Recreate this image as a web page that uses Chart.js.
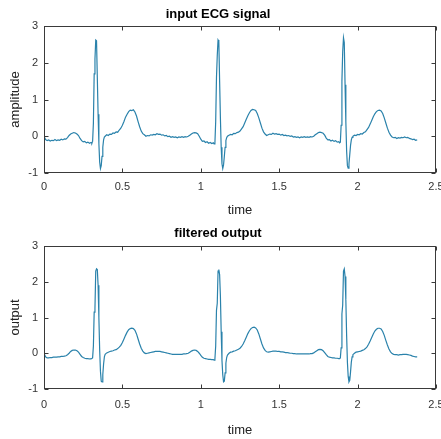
<!DOCTYPE html>
<html lang="en">
<head>
  <meta charset="UTF-8">
  <title>ECG input and filtered output</title>
  <script src="https://cdn.jsdelivr.net/npm/chart.js"></script>
  <style>
    body {
      margin: 0;
      background: #fff;
      width: 441px;
      height: 439px;
      overflow: hidden;
    }
    canvas {
      display: block;
    }
  </style>
</head>
<body>
  <canvas id="inputChart" width="441" height="220"></canvas>
  <canvas id="filteredChart" width="441" height="219"></canvas>

  <script>
    // sample times (s), denser around each QRS complex
    const timeSec = [
      0.00, 0.01, 0.02, 0.03, 0.04, 0.05, 0.06, 0.07, 0.08, 0.09,
      0.10, 0.11, 0.12, 0.13, 0.14, 0.15, 0.16, 0.17, 0.18, 0.19,
      0.20, 0.21, 0.22, 0.23, 0.24, 0.25, 0.26, 0.27, 0.28, 0.29,
      0.30, 0.305, 0.31, 0.315, 0.32, 0.325, 0.33, 0.335, 0.34, 0.345,
      0.35, 0.355, 0.36, 0.365, 0.37, 0.375, 0.38, 0.385,
      0.39, 0.40, 0.41, 0.42, 0.43, 0.44, 0.45, 0.46, 0.47, 0.48,
      0.49, 0.50, 0.51, 0.52, 0.53, 0.54, 0.55, 0.56, 0.57, 0.58,
      0.59, 0.60, 0.61, 0.62, 0.63, 0.64, 0.65, 0.66, 0.67, 0.68,
      0.69, 0.70, 0.71, 0.72, 0.73, 0.74, 0.75, 0.76, 0.77, 0.78,
      0.79, 0.80, 0.81, 0.82, 0.83, 0.84, 0.85, 0.86, 0.87, 0.88,
      0.89, 0.90, 0.91, 0.92, 0.93, 0.94, 0.95, 0.96, 0.97, 0.98,
      0.99, 1.00, 1.01, 1.02, 1.03, 1.04, 1.05, 1.06, 1.07, 1.08,
      1.085, 1.09, 1.095, 1.10, 1.105, 1.11, 1.115, 1.12, 1.125, 1.13,
      1.135, 1.14, 1.145, 1.15, 1.155, 1.16, 1.165,
      1.17, 1.18, 1.19, 1.20, 1.21, 1.22, 1.23, 1.24, 1.25, 1.26,
      1.27, 1.28, 1.29, 1.30, 1.31, 1.32, 1.33, 1.34, 1.35, 1.36,
      1.37, 1.38, 1.39, 1.40, 1.41, 1.42, 1.43, 1.44, 1.45, 1.46,
      1.47, 1.48, 1.49, 1.50, 1.51, 1.52, 1.53, 1.54, 1.55, 1.56,
      1.57, 1.58, 1.59, 1.60, 1.61, 1.62, 1.63, 1.64, 1.65, 1.66,
      1.67, 1.68, 1.69, 1.70, 1.71, 1.72, 1.73, 1.74, 1.75, 1.76,
      1.77, 1.78, 1.79, 1.80, 1.81, 1.82, 1.83, 1.84, 1.85, 1.86,
      1.87, 1.88,
      1.885, 1.89, 1.895, 1.90, 1.905, 1.91, 1.915, 1.92, 1.925, 1.93,
      1.935, 1.94, 1.945, 1.95, 1.955, 1.96, 1.965,
      1.97, 1.98, 1.99, 2.00, 2.01, 2.02, 2.03, 2.04, 2.05, 2.06,
      2.07, 2.08, 2.09, 2.10, 2.11, 2.12, 2.13, 2.14, 2.15, 2.16,
      2.17, 2.18, 2.19, 2.20, 2.21, 2.22, 2.23, 2.24, 2.25, 2.26,
      2.27, 2.28, 2.29, 2.30, 2.31, 2.32, 2.33, 2.34, 2.35, 2.36,
      2.37, 2.38
    ];

    // raw ECG amplitude, same rows as timeSec
    const inputAmp = [
      0.00, -0.09, -0.12, -0.10, -0.13, -0.11, -0.12, -0.09, -0.12, -0.10,
      -0.11, -0.08, -0.10, -0.07, -0.08, -0.04, 0.02, 0.06, 0.08, 0.10,
      0.09, 0.06, 0.02, -0.06, -0.12, -0.15, -0.14, -0.18, -0.16, -0.19,
      -0.17, -0.19, -0.14, 0.35, 1.70, 2.10, 2.62, 2.60, 1.60, 0.60,
      -0.20, -0.70, -0.88, -0.80, -0.55, -0.30, -0.10, -0.02,
      0.00, 0.04, 0.02, 0.06, 0.05, 0.09, 0.08, 0.12, 0.11, 0.17,
      0.22, 0.30, 0.40, 0.52, 0.60, 0.67, 0.71, 0.70, 0.72, 0.66,
      0.55, 0.40, 0.26, 0.14, 0.07, 0.04, 0.00, 0.02, 0.01, 0.04,
      0.03, 0.05, 0.04, 0.07, 0.05, 0.06, 0.03, 0.04, 0.01, 0.02,
      -0.01, 0.00, -0.03, -0.01, -0.03, -0.02, -0.04, -0.02, -0.03, -0.01,
      -0.03, -0.01, -0.02, 0.00, 0.03, 0.06, 0.09, 0.10, 0.09, 0.07,
      0.00, -0.08, -0.14, -0.13, -0.17, -0.15, -0.19, -0.17, -0.20, -0.18,
      -0.21, -0.19, 0.40, 1.60, 2.20, 2.62, 2.58, 1.50, 0.50, -0.30,
      -0.75, -0.88, -0.78, -0.55, -0.30, -0.12, -0.04,
      0.00, 0.03, 0.05, 0.04, 0.08, 0.07, 0.10, 0.11, 0.14, 0.20,
      0.26, 0.36, 0.46, 0.56, 0.64, 0.70, 0.73, 0.72, 0.70, 0.62,
      0.50, 0.36, 0.22, 0.12, 0.06, 0.02, 0.04, 0.06, 0.05, 0.08,
      0.06, 0.07, 0.05, 0.06, 0.03, 0.05, 0.02, 0.03, 0.01, 0.02,
      0.00, 0.01, -0.02, -0.01, -0.03, -0.02, -0.04, -0.02, -0.03, -0.01,
      -0.03, -0.02, -0.03, -0.01, -0.02, 0.00, 0.04, 0.07, 0.10, 0.11,
      0.10, 0.08, 0.03, -0.05, -0.10, -0.09, -0.13, -0.11, -0.14, -0.12,
      -0.16, -0.15,
      -0.18, -0.16, 0.30, 1.50, 2.30, 2.68, 2.55, 1.40, 0.40, -0.40,
      -0.80, -0.87, -0.75, -0.50, -0.25, -0.10, -0.03,
      0.00, 0.03, 0.02, 0.05, 0.04, 0.07, 0.06, 0.10, 0.12, 0.18,
      0.24, 0.33, 0.43, 0.53, 0.61, 0.67, 0.70, 0.71, 0.69, 0.62,
      0.50, 0.36, 0.22, 0.11, 0.03, -0.02, -0.04, -0.03, -0.06, -0.04,
      -0.05, -0.03, -0.04, -0.02, -0.04, -0.03, -0.06, -0.07, -0.09, -0.08,
      -0.11, -0.10
    ];

    // filter output, same rows as timeSec
    const filteredOut = [
      0.00, -0.10, -0.13, -0.13, -0.12, -0.12, -0.11, -0.11, -0.11, -0.10,
      -0.10, -0.09, -0.09, -0.08, -0.07, -0.04, 0.00, 0.05, 0.08, 0.09,
      0.09, 0.07, 0.03, -0.03, -0.09, -0.12, -0.14, -0.15, -0.15, -0.16,
      -0.16, -0.16, -0.13, 0.20, 1.15, 1.25, 2.30, 2.36, 2.34, 1.90,
      1.00, 0.10, -0.50, -0.78, -0.80, -0.60, -0.30, -0.10,
      -0.03, 0.01, 0.03, 0.05, 0.06, 0.07, 0.09, 0.10, 0.13, 0.17,
      0.22, 0.30, 0.40, 0.50, 0.59, 0.66, 0.69, 0.70, 0.69, 0.64,
      0.54, 0.40, 0.26, 0.14, 0.06, 0.01, -0.01, 0.00, 0.01, 0.02,
      0.03, 0.04, 0.05, 0.05, 0.05, 0.05, 0.04, 0.03, 0.02, 0.01,
      0.00, -0.01, -0.02, -0.03, -0.03, -0.03, -0.03, -0.03, -0.03, -0.03,
      -0.02, -0.02, -0.01, 0.00, 0.03, 0.06, 0.08, 0.09, 0.08, 0.05,
      0.00, -0.06, -0.11, -0.14, -0.15, -0.16, -0.17, -0.17, -0.18, -0.18,
      -0.19, -0.16, 0.20, 1.20, 1.40, 2.30, 2.34, 2.20, 1.60, 0.60,
      -0.20, -0.60, -0.80, -0.78, -0.55, -0.28, -0.12,
      -0.05, 0.00, 0.03, 0.04, 0.06, 0.07, 0.09, 0.11, 0.14, 0.19,
      0.26, 0.35, 0.45, 0.55, 0.63, 0.69, 0.72, 0.73, 0.71, 0.65,
      0.54, 0.40, 0.26, 0.15, 0.08, 0.04, 0.03, 0.04, 0.05, 0.06,
      0.06, 0.06, 0.05, 0.05, 0.04, 0.04, 0.03, 0.02, 0.02, 0.01,
      0.00, 0.00, -0.01, -0.01, -0.02, -0.02, -0.02, -0.02, -0.02, -0.02,
      -0.02, -0.02, -0.02, -0.01, -0.01, 0.01, 0.04, 0.07, 0.10, 0.11,
      0.10, 0.07, 0.02, -0.04, -0.09, -0.11, -0.12, -0.13, -0.13, -0.14,
      -0.14, -0.15,
      -0.15, -0.13, 0.15, 1.10, 1.35, 2.30, 2.36, 2.15, 1.50, 0.50,
      -0.25, -0.65, -0.80, -0.76, -0.52, -0.25, -0.10,
      -0.04, 0.00, 0.03, 0.04, 0.05, 0.06, 0.08, 0.10, 0.13, 0.18,
      0.25, 0.34, 0.44, 0.54, 0.62, 0.67, 0.70, 0.70, 0.68, 0.61,
      0.50, 0.36, 0.23, 0.12, 0.04, -0.01, -0.03, -0.04, -0.04, -0.05,
      -0.04, -0.04, -0.03, -0.03, -0.03, -0.04, -0.05, -0.06, -0.08, -0.09,
      -0.10, -0.10
    ];

    const xTicks = [0, 0.5, 1, 1.5, 2, 2.5];
    const yTicks = [-1, 0, 1, 2, 3];

    const lineColor = '#2a82ab';
    const axisColor = '#3a3a3a';
    const fontFamily = "'Liberation Sans', Arial, Helvetica, sans-serif";

    // matlab-ish box around the plot with inward tick marks
    const boxPlugin = {
      id: 'box',
      afterDraw(chart) {
        const { ctx, chartArea: a, scales } = chart;
        const L = Math.round(a.left) + 0.5, R = Math.round(a.right) - 0.5;
        const T = Math.round(a.top) + 0.5, B = Math.round(a.bottom) - 0.5;
        ctx.save();
        ctx.strokeStyle = axisColor;
        ctx.lineWidth = 1;
        ctx.strokeRect(L, T, R - L, B - T);
        ctx.beginPath();
        xTicks.forEach(v => {
          const px = Math.round(scales.x.getPixelForValue(v)) + 0.5;
          ctx.moveTo(px, B); ctx.lineTo(px, B - 4);
          ctx.moveTo(px, T); ctx.lineTo(px, T + 4);
        });
        yTicks.forEach(v => {
          const py = Math.round(scales.y.getPixelForValue(v)) + 0.5;
          ctx.moveTo(L, py); ctx.lineTo(L + 4, py);
          ctx.moveTo(R, py); ctx.lineTo(R - 4, py);
        });
        ctx.stroke();
        ctx.restore();
      }
    };

    function makeChart(id, values, title, yLabel, lay) {
      const points = timeSec.map((t, i) => ({ x: t, y: values[i] }));
      return new Chart(document.getElementById(id), {
        type: 'line',
        data: {
          datasets: [{
            data: points,
            borderColor: lineColor,
            borderWidth: 1.2,
            pointRadius: 0,
            tension: 0,
            fill: false
          }]
        },
        options: {
          responsive: false,
          animation: false,
          devicePixelRatio: 1,
          layout: { padding: { top: 0, right: 5, bottom: 0, left: 0 } },
          plugins: {
            legend: { display: false },
            tooltip: { enabled: false },
            title: {
              display: true,
              text: title,
              color: '#000',
              font: { family: fontFamily, size: 13, weight: 'bold' },
              padding: { top: lay.titleTop, bottom: lay.titleBottom }
            }
          },
          scales: {
            x: {
              type: 'linear',
              min: 0,
              max: 2.5,
              afterBuildTicks(scale) {
                scale.ticks = xTicks.map(v => ({ value: v }));
              },
              afterFit(scale) {
                scale.height = lay.xHeight;
                scale.paddingLeft = 0;
                scale.paddingRight = 0;
              },
              grid: { display: false, drawTicks: false },
              border: { display: false },
              ticks: {
                color: '#333',
                padding: lay.xTickPad,
                maxRotation: 0,
                autoSkip: false,
                font: { family: fontFamily, size: 11 },
                callback: v => String(v)
              },
              title: {
                display: true,
                text: 'time',
                color: '#222',
                font: { family: fontFamily, size: 13 },
                padding: { top: 0, bottom: lay.xTitleBottom }
              }
            },
            y: {
              min: -1,
              max: 3,
              afterBuildTicks(scale) {
                scale.ticks = yTicks.map(v => ({ value: v }));
              },
              afterFit(scale) {
                scale.width = 44;
              },
              grid: { display: false, drawTicks: false },
              border: { display: false },
              ticks: {
                color: '#333',
                padding: 6,
                font: { family: fontFamily, size: 11 },
                callback: v => String(v)
              },
              title: {
                display: true,
                text: yLabel,
                color: '#222',
                font: { family: fontFamily, size: 13 },
                padding: { top: 8, bottom: 0 }
              }
            }
          }
        },
        plugins: [boxPlugin]
      });
    }

    makeChart('inputChart', inputAmp, 'input ECG signal', 'amplitude',
      { titleTop: 7, titleBottom: 3.4, xHeight: 47, xTickPad: 7, xTitleBottom: 2 });
    makeChart('filteredChart', filteredOut, 'filtered output', 'output',
      { titleTop: 5.5, titleBottom: 4.9, xHeight: 50, xTickPad: 9, xTitleBottom: 1 });
  </script>
</body>
</html>
